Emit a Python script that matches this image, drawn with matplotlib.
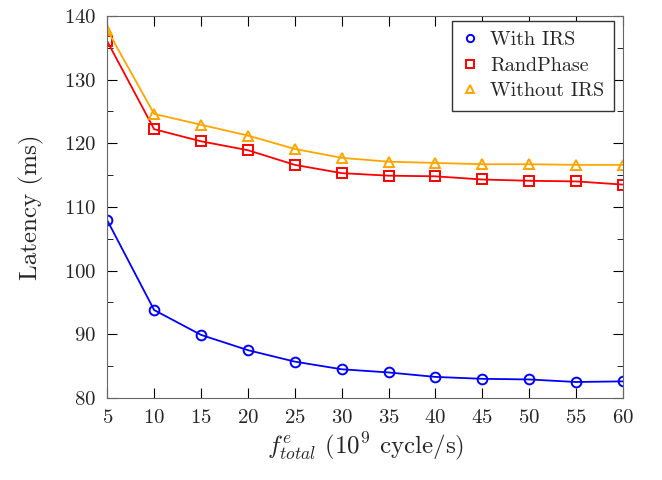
import matplotlib
matplotlib.use('Agg')
from matplotlib import pyplot as plt

plt.rcParams['font.family'] = 'cmr10'
plt.rcParams['mathtext.fontset'] = 'cm'
plt.rcParams['axes.formatter.use_mathtext'] = True
plt.rcParams['text.color'] = '#262626'
plt.rcParams['axes.labelcolor'] = '#262626'
plt.rcParams['xtick.labelcolor'] = '#262626'
plt.rcParams['ytick.labelcolor'] = '#262626'

freq = [5, 10, 15, 20, 25, 30, 35, 40, 45, 50, 55, 60]
with_irs = [107.9, 93.8, 89.9, 87.5, 85.7, 84.5, 84.0, 83.3, 83.0, 82.9, 82.5, 82.6]
rand_phase = [136.0, 122.2, 120.3, 118.9, 116.6, 115.3, 114.9, 114.8, 114.3, 114.1, 114.0, 113.5]
without_irs = [137.8, 124.6, 122.9, 121.2, 119.1, 117.7, 117.1, 116.9, 116.7, 116.7, 116.6, 116.6]

fig = plt.figure(figsize=(6.62, 4.8), dpi=100)
ax = fig.add_axes([0.162, 0.171, 0.779, 0.796])

ax.plot(freq, with_irs, color='blue', marker='o', markersize=7, mfc='none', mew=1.4, lw=1.3, label='With IRS')
ax.plot(freq, rand_phase, color='red', marker='s', markersize=7, mfc='none', mew=1.4, lw=1.3, label='RandPhase')
ax.plot(freq, without_irs, color='orange', marker='^', markersize=7, mfc='none', mew=1.4, lw=1.3, label='Without IRS')

ax.set_xlim(5, 60)
ax.set_ylim(80, 140)
ax.set_xticks(freq)
ax.set_yticks(range(80, 141, 10))
ax.set_yticks(range(85, 140, 10), minor=True)
ax.tick_params(which='both', direction='in', top=True, right=True, labelsize=15, pad=8)
ax.tick_params(which='major', length=7)
ax.tick_params(which='minor', length=4)
for s in ax.spines.values():
    s.set_color('#666666')

ax.set_xlabel(r'$f^{e}_{total}$ ($10^9$ cycle/s)', fontsize=18, labelpad=2)
ax.set_ylabel('Latency (ms)', fontsize=18, labelpad=14)

leg = ax.legend(loc='upper right', bbox_to_anchor=(0.983, 0.987), borderaxespad=0,
                fontsize=14.5, fancybox=False, edgecolor='#333333',
                handlelength=0.8, handletextpad=0.6, framealpha=1,
                markerscale=0.75, labelspacing=0.38, borderpad=0.5)
leg.get_frame().set_linewidth(1.0)
for h in leg.legend_handles:
    h.set_linestyle('none')

fig.savefig('out.png', dpi=100)
